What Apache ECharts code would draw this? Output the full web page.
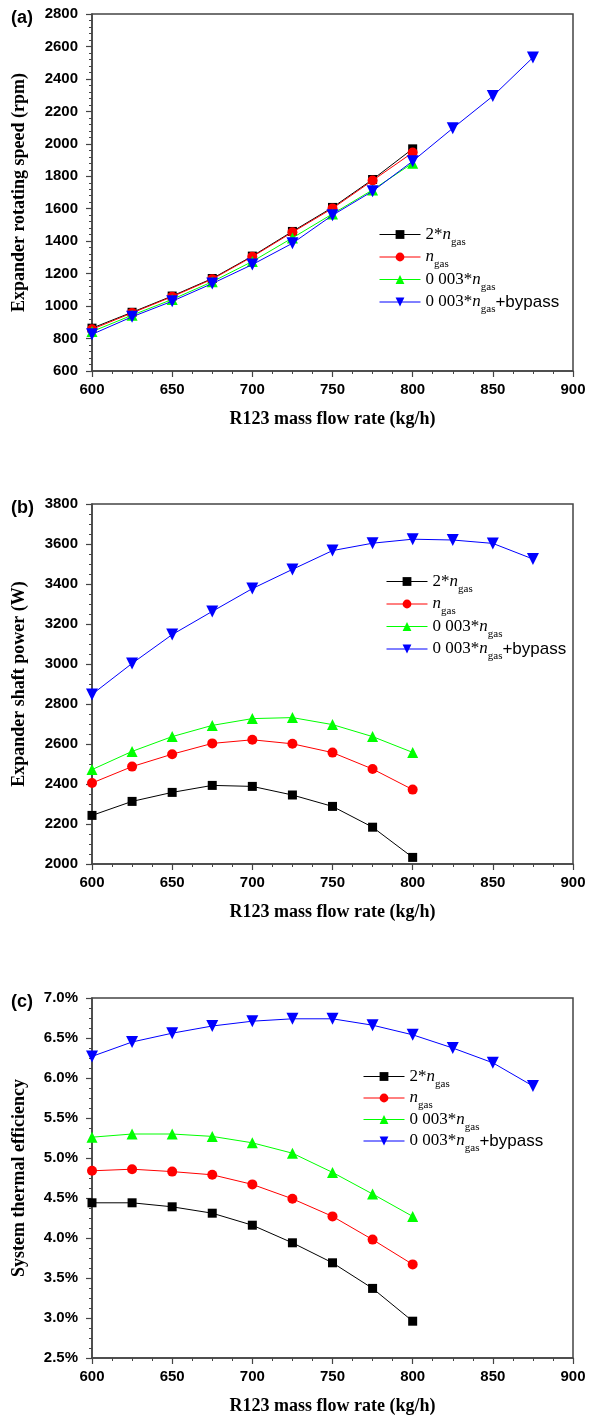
<!DOCTYPE html>
<html>
<head>
<meta charset="utf-8">
<script src="https://cdn.jsdelivr.net/npm/echarts@6/dist/echarts.min.js"></script>
<style>
html,body{margin:0;padding:0;background:#fff;}
#chart{width:590px;height:1421px;}
</style>
</head>
<body>
<div id="chart"></div>
<script>
// ---- data ----
var flowA = [600, 625, 650, 675, 700, 725, 750, 775, 800];
var flowB = [600, 625, 650, 675, 700, 725, 750, 775, 800, 825, 850, 875];

// (a) Expander rotating speed (rpm)
var speed2n      = [864, 962, 1062, 1170, 1308, 1460, 1608, 1780, 1969];
var speedN       = [857, 958, 1058, 1166, 1304, 1455, 1602, 1774, 1946];
var speed003     = [843, 944, 1041, 1150, 1275, 1420, 1568, 1716, 1881];
var speedBypass  = [826, 934, 1030, 1139, 1256, 1387, 1560, 1708, 1893, 2096, 2294, 2532];

// (b) Expander shaft power (W)
var power2n      = [2243, 2313, 2358, 2393, 2388, 2345, 2288, 2184, 2033];
var powerN       = [2405, 2487, 2549, 2603, 2621, 2601, 2557, 2475, 2372];
var power003     = [2472, 2563, 2637, 2693, 2727, 2732, 2697, 2637, 2558];
var powerBypass  = [2848, 3003, 3147, 3263, 3377, 3473, 3567, 3604, 3624, 3620, 3603, 3525];

// (c) System thermal efficiency (%)
var eff2n        = [4.44, 4.44, 4.39, 4.31, 4.16, 3.94, 3.69, 3.37, 2.96];
var effN         = [4.84, 4.86, 4.83, 4.79, 4.67, 4.49, 4.27, 3.98, 3.67];
var eff003       = [5.26, 5.30, 5.30, 5.27, 5.19, 5.06, 4.82, 4.55, 4.27];
var effBypass    = [6.27, 6.45, 6.56, 6.65, 6.71, 6.74, 6.74, 6.66, 6.54, 6.375, 6.19, 5.90];

var seriesNames = ['2*n', 'n', '0 003*n', '0 003*n+bypass'];
var panelLabels = ['(a)', '(b)', '(c)'];
var yTitles = ['Expander rotating speed (rpm)', 'Expander shaft power (W)', 'System thermal efficiency'];
var xTitle = 'R123 mass flow rate (kg/h)';

// ---- styling ----
var colors = ['#000000', '#ff0000', '#00ff00', '#0000ff'];
var symbols = ['rect', 'circle', 'triangle', 'path://M0,0 L10,0 L5,9 Z'];
var symbolSizes = [9, 10, 11, 12];
var serif = '"Liberation Serif","Times New Roman",serif';
var sans = '"Liberation Sans",Arial,sans-serif';

var grids = [
  {left: 92, right: 17, top: 14, height: 357},
  {left: 92, right: 17, top: 504, height: 360},
  {left: 92, right: 17, top: 998, height: 360}
];
var yCfg = [
  {min: 600, max: 2800, interval: 200, minor: 5, fmt: function (v) { return v; }},
  {min: 2000, max: 3800, interval: 200, minor: 4, fmt: function (v) { return v; }},
  {min: 2.5, max: 7.0, interval: 0.5, minor: 4, fmt: function (v) { return v.toFixed(1) + '%'; }}
];
var dataSets = [
  [speed2n, speedN, speed003, speedBypass],
  [power2n, powerN, power003, powerBypass],
  [eff2n, effN, eff003, effBypass]
];
var legendPos = [
  {left: 379, top: 226, gap: 1},
  {left: 386, top: 573, gap: 1},
  {left: 363, top: 1068, gap: 0}
];

function pairs(xs, ys) {
  return ys.map(function (y, i) { return [xs[i], y]; });
}

var axisColor = '#444';
var xAxes = [], yAxes = [], series = [], legends = [], titles = [];
for (var p = 0; p < 3; p++) {
  xAxes.push({
    gridIndex: p, type: 'value', min: 600, max: 900, interval: 50,
    name: xTitle, nameLocation: 'middle', nameGap: 39,
    nameTextStyle: {fontFamily: serif, fontWeight: 'bold', fontSize: 18, color: '#000'},
    axisLine: {show: true, lineStyle: {color: axisColor, width: 1.5}},
    axisTick: {show: true, inside: false, length: 6, lineStyle: {color: axisColor, width: 1.2}},
    minorTick: {show: true, splitNumber: 4, length: 3, lineStyle: {color: axisColor, width: 1}},
    axisLabel: {fontFamily: sans, fontWeight: 'bold', fontSize: 15, color: '#000', margin: 11},
    splitLine: {show: false}
  });
  yAxes.push({
    gridIndex: p, type: 'value', min: yCfg[p].min, max: yCfg[p].max, interval: yCfg[p].interval,
    name: yTitles[p], nameLocation: 'middle', nameGap: 64, nameRotate: 90,
    nameTextStyle: {fontFamily: serif, fontWeight: 'bold', fontSize: 18, color: '#000'},
    axisLine: {show: true, lineStyle: {color: axisColor, width: 1.5}},
    axisTick: {show: true, inside: false, length: 6, lineStyle: {color: axisColor, width: 1.2}},
    minorTick: {show: true, splitNumber: yCfg[p].minor, length: 3, lineStyle: {color: axisColor, width: 1}},
    axisLabel: {fontFamily: sans, fontWeight: 'bold', fontSize: 15, color: '#000', margin: 14, formatter: yCfg[p].fmt},
    splitLine: {show: false}
  });
  for (var s = 0; s < 4; s++) {
    series.push({
      type: 'line', name: seriesNames[s], xAxisIndex: p, yAxisIndex: p,
      data: pairs(s === 3 ? flowB : flowA, dataSets[p][s]),
      symbol: symbols[s], symbolSize: symbolSizes[s],
      itemStyle: {color: colors[s]},
      lineStyle: {color: colors[s], width: 1},
      z: 2 + s,
      animation: false
    });
  }
  legends.push({
    orient: 'vertical', left: legendPos[p].left, top: legendPos[p].top,
    itemGap: legendPos[p].gap, itemWidth: 41, itemHeight: 11,
    padding: 0, selectedMode: false,
    lineStyle: {width: 1},
    data: seriesNames.slice(),
    formatter: function (name) {
      if (name === '2*n') return '{t|2*}{i|n}{s|gas}';
      if (name === 'n') return '{i|n}{s|gas}';
      if (name === '0 003*n') return '{t|0 003*}{i|n}{s|gas}';
      return '{t|0 003*}{i|n}{s|gas}{b|+bypass}';
    },
    textStyle: {
      padding: [0, 0, 0, 0],
      rich: {
        t: {fontFamily: serif, fontSize: 17, color: '#000', lineHeight: 26},
        i: {fontFamily: serif, fontSize: 17, fontStyle: 'italic', color: '#000', lineHeight: 26},
        s: {fontFamily: serif, fontSize: 11, color: '#000', lineHeight: 14, verticalAlign: 'bottom'},
        b: {fontFamily: sans, fontSize: 17, color: '#000', lineHeight: 26}
      }
    }
  });
  titles.push({
    text: panelLabels[p], left: 6, top: grids[p].top - 10,
    textStyle: {fontFamily: sans, fontWeight: 'bold', fontSize: 18, color: '#000'}
  });
}

grids.forEach(function (g) {
  g.show = true; g.borderColor = axisColor; g.borderWidth = 1.5; g.backgroundColor = 'transparent';
});

var chart = echarts.init(document.getElementById('chart'), null, {renderer: 'canvas'});
chart.setOption({
  backgroundColor: '#fff',
  animation: false,
  title: titles,
  grid: grids,
  xAxis: xAxes,
  yAxis: yAxes,
  legend: legends,
  series: series
});
</script>
</body>
</html>
